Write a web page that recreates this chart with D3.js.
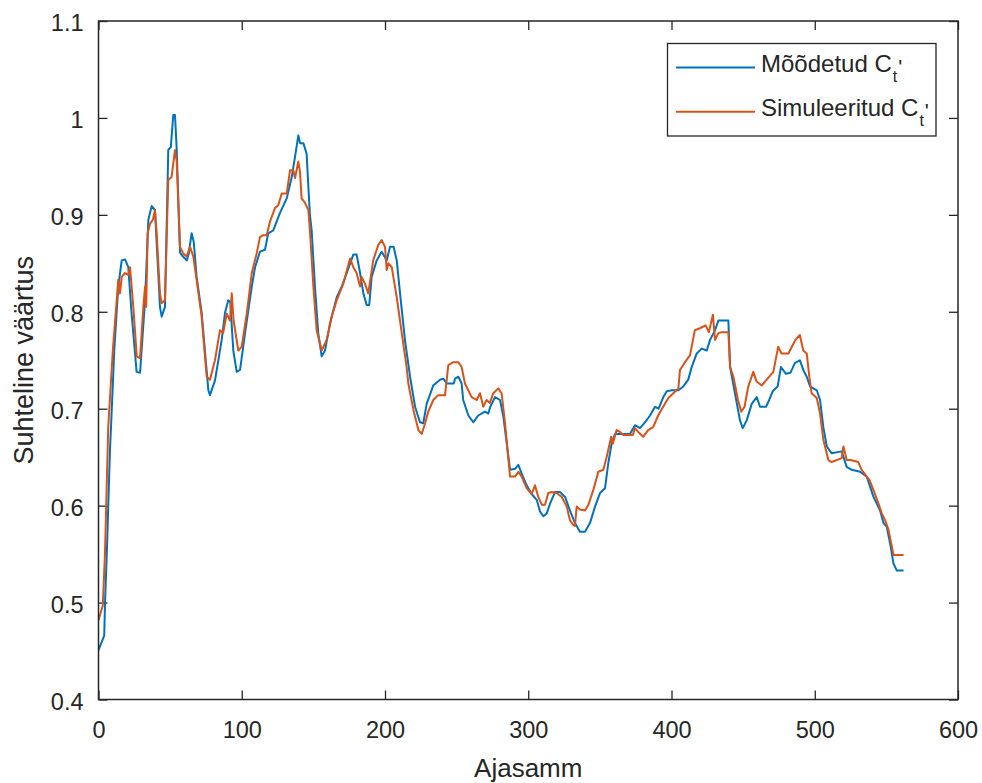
<!DOCTYPE html>
<html>
<head>
<meta charset="utf-8">
<script src="https://cdn.jsdelivr.net/npm/d3@7"></script>
<style>
  body { margin: 0; background: #fff; }
  svg { display: block; font-family: Helvetica, Arial, "Liberation Sans", sans-serif; }
</style>
</head>
<body>
<svg id="chart" width="982" height="783"></svg>
<script>
// measured series (time step, value)
const measuredT = [0, 4, 4.5, 6, 8, 9, 11, 13.8, 16.2, 18.5, 20.8, 23, 26.6, 29, 32.5, 34.8, 37.1, 39.4, 41, 42.9, 44.1, 46.4, 48.7, 50.5, 52.2, 53.4, 54.6, 56.9, 59, 61.6, 63, 65, 66.5, 68.5, 72, 76.7, 77.8, 81.3, 86, 88.3, 90.6, 92, 94.1, 96.5, 98.8, 102.3, 107, 109.3, 112.7, 116.2, 118.5, 122, 126.7, 131.4, 134.9, 137.2, 139.5, 140.7, 143, 145.3, 146.5, 147.6, 148.8, 151.1, 153.4, 155.8, 158.1, 161.6, 166.3, 169.8, 173.3, 177.9, 180.2, 182.6, 184.9, 187.2, 189, 190.7, 194.2, 197.7, 201.2, 203.5, 206, 208.2, 210.5, 214, 217.5, 221, 224.4, 226.7, 229.1, 233.7, 238.4, 240.7, 243.1, 248, 248.9, 251.2, 253.5, 254.6, 258.2, 261.6, 265.1, 269.8, 272.1, 273.5, 276.8, 280.3, 282.6, 285, 287.3, 290.8, 293.1, 295.4, 298.9, 302.4, 305.9, 308.2, 310.5, 312.9, 315.2, 318.7, 322.2, 325.7, 329.1, 332.6, 336.1, 339.6, 343.1, 346.6, 350.1, 353.6, 355.9, 358.2, 360.6, 366.4, 371, 374.5, 378, 381.5, 385, 388.5, 391, 394.3, 396.7, 400.1, 404.8, 408.2, 411.7, 414.1, 417.6, 421.1, 424.6, 426.9, 430.4, 432.7, 439.7, 440.9, 444.3, 447.8, 449.7, 452.5, 456, 459.5, 461.8, 466, 468.2, 470.6, 474.1, 476.4, 479.9, 483, 486.1, 489.6, 492, 494.4, 496.7, 501.4, 503.7, 506, 508.4, 511.8, 518.8, 522.3, 525.8, 531.6, 536.3, 541, 545.6, 548, 550.3, 552.6, 555, 557.3, 562];
const measuredV = [0.451, 0.466, 0.497, 0.56, 0.657, 0.69, 0.76, 0.826, 0.853, 0.854, 0.846, 0.80, 0.738, 0.737, 0.812, 0.895, 0.909, 0.905, 0.86, 0.805, 0.795, 0.805, 0.967, 0.970, 1.003, 1.003, 0.967, 0.861, 0.857, 0.853, 0.860, 0.881, 0.872, 0.836, 0.799, 0.719, 0.714, 0.729, 0.771, 0.799, 0.812, 0.810, 0.760, 0.738, 0.740, 0.778, 0.826, 0.846, 0.862, 0.864, 0.881, 0.884, 0.902, 0.917, 0.939, 0.960, 0.982, 0.974, 0.974, 0.963, 0.929, 0.900, 0.884, 0.826, 0.778, 0.754, 0.760, 0.788, 0.815, 0.826, 0.840, 0.859, 0.859, 0.840, 0.819, 0.807, 0.807, 0.836, 0.853, 0.862, 0.853, 0.867, 0.867, 0.853, 0.819, 0.770, 0.733, 0.702, 0.686, 0.685, 0.705, 0.724, 0.730, 0.731, 0.726, 0.726, 0.731, 0.733, 0.726, 0.709, 0.693, 0.686, 0.693, 0.697, 0.695, 0.702, 0.712, 0.709, 0.692, 0.664, 0.637, 0.638, 0.642, 0.633, 0.621, 0.612, 0.606, 0.594, 0.589, 0.592, 0.602, 0.614, 0.614, 0.609, 0.595, 0.582, 0.573, 0.573, 0.582, 0.599, 0.613, 0.618, 0.644, 0.664, 0.674, 0.674, 0.674, 0.683, 0.680, 0.686, 0.693, 0.702, 0.700, 0.712, 0.718, 0.719, 0.719, 0.723, 0.730, 0.743, 0.757, 0.762, 0.760, 0.771, 0.781, 0.791, 0.791, 0.743, 0.716, 0.688, 0.680, 0.688, 0.705, 0.712, 0.702, 0.702, 0.709, 0.718, 0.723, 0.743, 0.736, 0.737, 0.747, 0.750, 0.740, 0.733, 0.723, 0.719, 0.709, 0.681, 0.661, 0.654, 0.656, 0.640, 0.637, 0.635, 0.630, 0.609, 0.595, 0.582, 0.578, 0.561, 0.540, 0.533, 0.533];

// simulated series
const simulatedT = [0, 3, 4.5, 6.8, 10, 13.8, 15, 16.2, 18.5, 20.8, 22, 24.3, 26.7, 29, 31.3, 32.5, 33.3, 34.3, 36, 38, 39.4, 40.5, 42.9, 44.1, 46.4, 48.7, 51, 53.4, 54.6, 56.9, 59.2, 61.6, 63.9, 66.2, 68.5, 72, 75.5, 77.8, 81.3, 84.8, 87, 89.5, 91.8, 93, 94.3, 97.6, 100, 103.5, 107, 110.4, 112.7, 115, 117.4, 119.7, 123.2, 125.5, 127.9, 131.4, 133.7, 136, 137.2, 139.5, 140.7, 141.8, 144, 146.5, 147.6, 150, 152.3, 155.8, 159.3, 162.8, 166.3, 170.9, 175.6, 177.9, 180.2, 182.6, 183.7, 186, 188.3, 191.8, 195.3, 197.7, 200, 201.2, 202.4, 204.7, 208.2, 211.7, 215.1, 216.3, 219.8, 223.3, 225.6, 228, 230.2, 233.7, 237.2, 241.9, 244.2, 247.7, 251.2, 253.5, 255.8, 260.5, 264, 266.3, 268.6, 270.9, 273.2, 275.6, 279.1, 281.4, 283.8, 286, 287.3, 290.8, 293.1, 295.4, 298.9, 302.4, 304.7, 307, 309.4, 311.7, 314, 316.3, 319.8, 323.4, 326.9, 329.1, 331.5, 332.6, 333.8, 336.1, 339.6, 342, 345.4, 348.9, 352.4, 354.7, 357.9, 359, 361.7, 364, 366.4, 373, 374.5, 376.8, 380.2, 383.7, 387.2, 390.7, 394.2, 397.8, 401.3, 404.8, 405.9, 409.4, 412.9, 416.3, 419.8, 423.8, 426.1, 428.9, 430.4, 432.7, 435, 439.7, 440.9, 443.2, 446.4, 448.7, 451, 453.6, 457.1, 459.4, 463, 466.4, 471.1, 474.5, 476.8, 481.6, 485.1, 486.5, 489.6, 492, 494.4, 496.2, 497.8, 501.4, 503.7, 506, 509.5, 511.8, 518.8, 520, 522.3, 525, 530.4, 532.7, 538.3, 541.8, 544.5, 546.8, 549.1, 551.5, 555, 562];
const simulatedV = [0.482, 0.497, 0.55, 0.681, 0.76, 0.833, 0.819, 0.836, 0.840, 0.838, 0.846, 0.805, 0.754, 0.752, 0.805, 0.826, 0.805, 0.881, 0.891, 0.895, 0.905, 0.884, 0.819, 0.809, 0.812, 0.936, 0.939, 0.967, 0.955, 0.867, 0.860, 0.857, 0.867, 0.857, 0.833, 0.795, 0.733, 0.730, 0.750, 0.781, 0.778, 0.798, 0.791, 0.819, 0.791, 0.760, 0.764, 0.798, 0.840, 0.860, 0.877, 0.879, 0.879, 0.893, 0.907, 0.910, 0.922, 0.922, 0.946, 0.946, 0.938, 0.955, 0.944, 0.917, 0.913, 0.905, 0.884, 0.826, 0.781, 0.760, 0.771, 0.795, 0.812, 0.829, 0.855, 0.846, 0.840, 0.826, 0.836, 0.829, 0.819, 0.853, 0.869, 0.874, 0.867, 0.843, 0.850, 0.846, 0.815, 0.778, 0.743, 0.726, 0.699, 0.678, 0.674, 0.685, 0.697, 0.709, 0.714, 0.714, 0.745, 0.748, 0.748, 0.743, 0.726, 0.712, 0.709, 0.716, 0.702, 0.709, 0.706, 0.716, 0.721, 0.716, 0.685, 0.650, 0.630, 0.630, 0.635, 0.630, 0.618, 0.612, 0.621, 0.609, 0.601, 0.601, 0.613, 0.614, 0.613, 0.609, 0.599, 0.585, 0.580, 0.579, 0.599, 0.596, 0.595, 0.601, 0.616, 0.635, 0.637, 0.650, 0.671, 0.664, 0.678, 0.676, 0.673, 0.673, 0.680, 0.676, 0.671, 0.678, 0.681, 0.693, 0.702, 0.711, 0.716, 0.721, 0.740, 0.748, 0.755, 0.781, 0.783, 0.786, 0.779, 0.797, 0.771, 0.778, 0.779, 0.779, 0.743, 0.733, 0.709, 0.697, 0.702, 0.723, 0.738, 0.728, 0.724, 0.730, 0.738, 0.764, 0.757, 0.757, 0.767, 0.771, 0.776, 0.760, 0.757, 0.733, 0.716, 0.711, 0.695, 0.668, 0.647, 0.645, 0.649, 0.661, 0.647, 0.647, 0.645, 0.637, 0.626, 0.613, 0.602, 0.592, 0.585, 0.575, 0.549, 0.549];

const xTicks = [0, 100, 200, 300, 400, 500, 600];
const yTicks = [0.4, 0.5, 0.6, 0.7, 0.8, 0.9, 1, 1.1];
const seriesNames = ["Mõõdetud", "Simuleeritud"];
const seriesColors = ["#0072BD", "#D95319"];

const svg = d3.select("#chart");
const margin = { left: 98.5, right: 24, top: 21, bottom: 83.5 };
const W = 982, H = 783;
const axisColor = "#262626";

const x = d3.scaleLinear().domain([0, 600]).range([margin.left, W - margin.right]);
const y = d3.scaleLinear().domain([0.4, 1.1]).range([H - margin.bottom, margin.top]);

const fmtY = (d) => (d === 1 ? "1" : d3.format(".1f")(d));

// bottom axis with labels, ticks pointing in
svg.append("g")
  .attr("class", "x-axis")
  .attr("transform", `translate(0,${y(0.4)})`)
  .call(d3.axisBottom(x).tickValues(xTicks).tickSize(-9).tickPadding(22))
  .call((g) => g.select(".domain").remove());

svg.append("g")
  .attr("class", "x-axis-top")
  .attr("transform", `translate(0,${y(1.1)})`)
  .call(d3.axisTop(x).tickValues(xTicks).tickSize(-9).tickFormat(""))
  .call((g) => g.select(".domain").remove());

svg.append("g")
  .attr("class", "y-axis")
  .attr("transform", `translate(${x(0)},0)`)
  .call(d3.axisLeft(y).tickValues(yTicks).tickSize(-9).tickPadding(15).tickFormat(fmtY))
  .call((g) => g.select(".domain").remove());

svg.append("g")
  .attr("class", "y-axis-right")
  .attr("transform", `translate(${x(600)},0)`)
  .call(d3.axisRight(y).tickValues(yTicks).tickSize(-9).tickFormat(""))
  .call((g) => g.select(".domain").remove());

svg.selectAll(".tick line").attr("stroke", axisColor).attr("stroke-width", 1.3);
svg.selectAll(".tick text")
  .attr("fill", axisColor)
  .style("font-size", "23.5px");
svg.selectAll(".y-axis .tick text").attr("dy", "0.42em");

// lines
const lineGen = d3.line().x((d) => x(d[0])).y((d) => y(d[1]));
svg.append("clipPath").attr("id", "plot-clip")
  .append("rect")
  .attr("x", x(0)).attr("y", y(1.1))
  .attr("width", x(600) - x(0)).attr("height", y(0.4) - y(1.1));

const plot = svg.append("g").attr("clip-path", "url(#plot-clip)");
const series = [
  measuredT.map((t, i) => [t, measuredV[i]]),
  simulatedT.map((t, i) => [t, simulatedV[i]]),
];
series.forEach((pts, i) => {
  plot.append("path")
    .datum(pts)
    .attr("fill", "none")
    .attr("stroke", seriesColors[i])
    .attr("stroke-width", 2)
    .attr("stroke-linejoin", "round")
    .attr("d", lineGen);
});

// frame
svg.append("rect")
  .attr("x", x(0)).attr("y", y(1.1))
  .attr("width", x(600) - x(0)).attr("height", y(0.4) - y(1.1))
  .attr("fill", "none")
  .attr("stroke", axisColor)
  .attr("stroke-width", 1.5);

// axis titles
svg.append("text")
  .attr("x", (x(0) + x(600)) / 2)
  .attr("y", 777)
  .attr("text-anchor", "middle")
  .attr("fill", axisColor)
  .style("font-size", "26px")
  .text("Ajasamm");

svg.append("text")
  .attr("transform", `translate(33,${(y(0.4) + y(1.1)) / 2}) rotate(-90)`)
  .attr("text-anchor", "middle")
  .attr("fill", axisColor)
  .style("font-size", "27px")
  .text("Suhteline väärtus");

// legend
const legend = svg.append("g").attr("class", "legend");
legend.append("rect")
  .attr("x", 667.5).attr("y", 43.5)
  .attr("width", 268.5).attr("height", 92.5)
  .attr("fill", "#fff")
  .attr("stroke", axisColor)
  .attr("stroke-width", 1.3);

seriesNames.forEach((name, i) => {
  const ly = 67.5 + i * 44.3;
  legend.append("line")
    .attr("x1", 676).attr("x2", 755)
    .attr("y1", ly).attr("y2", ly)
    .attr("stroke", seriesColors[i])
    .attr("stroke-width", 2);
  const t = legend.append("text")
    .attr("x", 761)
    .attr("y", ly + 4.5)
    .attr("fill", axisColor)
    .style("font-size", "24px");
  t.append("tspan").text(name + " C");
  t.append("tspan").attr("dy", 10).attr("dx", 1).style("font-size", "16px").text("t");
  t.append("tspan").attr("dy", -8).attr("dx", 1).style("font-size", "21px").text("'");
});
</script>
</body>
</html>
